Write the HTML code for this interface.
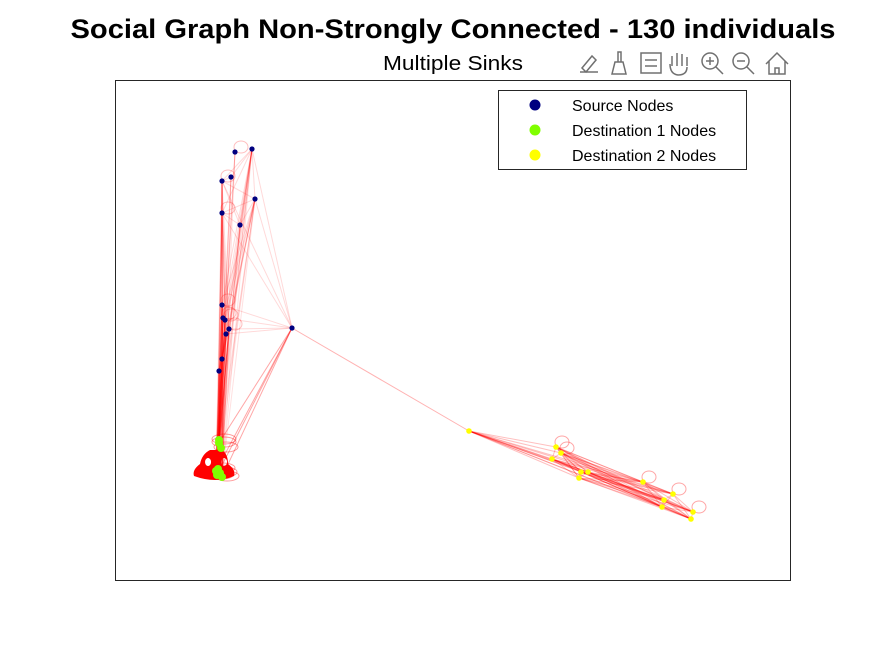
<!DOCTYPE html>
<html><head><meta charset="utf-8"><style>
body{margin:0;background:#fff;width:875px;height:656px;overflow:hidden;font-family:"Liberation Sans",sans-serif}
</style></head><body>
<svg width="875" height="656" viewBox="0 0 875 656">
<text x="453" y="38" text-anchor="middle" font-size="27" font-weight="bold" font-family="Liberation Sans, sans-serif" textLength="765" lengthAdjust="spacingAndGlyphs">Social Graph Non-Strongly Connected - 130 individuals</text>
<text x="453" y="70" text-anchor="middle" font-size="20" font-family="Liberation Sans, sans-serif" textLength="140" lengthAdjust="spacingAndGlyphs">Multiple Sinks</text>
<g id="toolbar" fill="none" stroke="#707070" stroke-width="1.5">
<g><path d="M580 72 h18 M582 68 l10-12 4 4 -10 12z"/></g>
<g><path d="M612 74 h14 l-3-12 h-8z M618 62 v-10 h3 v10"/></g>
<g><rect x="641" y="53" width="20" height="20"/><path d="M645 60 h12 M645 66 h12"/></g>
<g><path d="M672 66 v-10 M677 66 v-13 M682 66 v-12 M687 66 v-9 M670 64 q0 10 8 11 q9 0 9-8"/></g>
<g><circle cx="710" cy="61" r="8"/><path d="M716 67 l7 7 M706 61 h8 M710 57 v8"/></g>
<g><circle cx="741" cy="61" r="8"/><path d="M747 67 l7 7 M737 61 h8"/></g>
<g><path d="M766 64 l11-11 11 11 M769 61 v13 h16 v-13 M775 74 v-6 h4 v6"/></g>
</g>
<rect x="115.5" y="80.5" width="675" height="500" fill="#fff" stroke="#262626"/>
<g id="edges"></g>
<g id="nodes"></g>
<g>
<rect x="498.5" y="90.5" width="248" height="79" fill="#fff" stroke="#262626"/>
<circle cx="535" cy="105" r="5.5" fill="#000080"/>
<text x="572" y="111" font-size="16">Source Nodes</text>
<circle cx="535" cy="130" r="5.5" fill="#80ff00"/>
<text x="572" y="136" font-size="16">Destination 1 Nodes</text>
<circle cx="535" cy="155" r="5.5" fill="#ffff00"/>
<text x="572" y="161" font-size="16">Destination 2 Nodes</text>
</g>
</svg>
<script>
// node coordinates in data units (origin bottom-left of axes)
const srcX=[120,137,107,116,140,107,125,107,108,110,114,111,177,107,104];
const srcY=[429,432,400,404,382,368,356,276,263,261,252,247,253,222,210];
const d1X=[104,106,102,105,101,103,107,104];
const d1Y=[138,133,106,108,110,112,104,141];
const d2X=[354,441,446,437,466,473,464,528,558,549,547,578,576];
const d2Y=[150,134,128,122,109,109,103,99,87,81,74,69,62];
const W=676,H=501,X0=115,Y0=581;
function sx(v){return X0+v*W/676;}
function sy(v){return Y0-v*H/501;}
const NS="http://www.w3.org/2000/svg";
const eg=document.getElementById('edges'), ng=document.getElementById('nodes');
function line(x1,y1,x2,y2,op,w){
 const l=document.createElementNS(NS,'line');
 l.setAttribute('x1',sx(x1));l.setAttribute('y1',sy(y1));l.setAttribute('x2',sx(x2));l.setAttribute('y2',sy(y2));
 l.setAttribute('stroke','rgb(255,0,0)');l.setAttribute('stroke-opacity',op);l.setAttribute('stroke-width',w);
 
 
 eg.appendChild(l);
}
function loop(x,y,op,rx,ry){
 const c=document.createElementNS(NS,'ellipse');
 c.setAttribute('cx',sx(x)+(rx||7)-1);c.setAttribute('cy',sy(y)-5);c.setAttribute('rx',rx||7);c.setAttribute('ry',ry||6);
 c.setAttribute('fill','none');c.setAttribute('stroke','red');c.setAttribute('stroke-opacity',op);
 
 
 eg.appendChild(c);
}
for(let i=0;i<srcX.length;i++)for(let j=i+1;j<srcX.length;j++){if((i*7+j*3)%3!==0)line(srcX[i],srcY[i],srcX[j],srcY[j],0.15,1);}
for(let i=0;i<srcX.length;i++)for(let k=0;k<d1X.length;k+=2){line(srcX[i],srcY[i],d1X[k],d1Y[k],i>=7?0.35:0.12,1);}
line(srcX[12],srcY[12],d2X[0],d2Y[0],0.3,1);
for(let i=0;i<d2X.length;i++)for(let j=i+1;j<d2X.length;j++){line(d2X[i],d2Y[i],d2X[j],d2Y[j],0.25,1);}
[0,2,5,7,8,9,10].forEach(i=>loop(srcX[i],srcY[i],0.25));
[1,2,7,8,11].forEach(i=>loop(d2X[i],d2Y[i],0.35));
for(let i=0;i<d1X.length;i++){loop(d1X[i]-6,d1Y[i]-4,0.4,12,5);}
const blob=document.createElementNS(NS,'path');
blob.setAttribute('d','M210 450 q-8 4 -10 14 q-8 6 -6 12 q22 8 40 0 q2 -6 -6 -12 q0 -10 -6 -14z M208 458 a3 4 0 1 0 0.1 0z M224 458 a3 4 0 1 0 0.1 0z');
blob.setAttribute('fill','red');
blob.setAttribute('fill-rule','evenodd');


eg.appendChild(blob);
function node(x,y,r,fill,name){
 const c=document.createElementNS(NS,'circle');
 c.setAttribute('cx',sx(x));c.setAttribute('cy',sy(y));c.setAttribute('r',r);c.setAttribute('fill',fill);
 
 
 ng.appendChild(c);
}
for(let i=0;i<srcX.length;i++)node(srcX[i],srcY[i],2.6,'#000080','source-node');
for(let i=0;i<d1X.length;i++)node(d1X[i],d1Y[i],4,'#80ff00','destination-1-node');
for(let i=0;i<d2X.length;i++)node(d2X[i],d2Y[i],2.8,'#ffff00','destination-2-node');
</script>
</body></html>
